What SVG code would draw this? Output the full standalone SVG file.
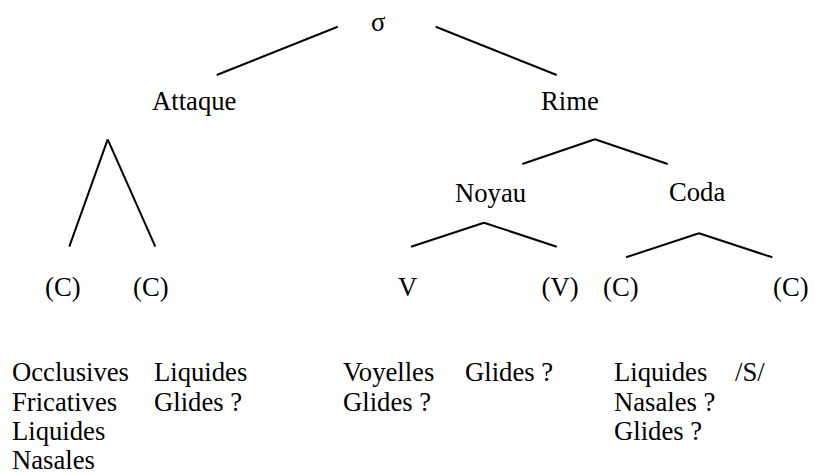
<svg xmlns="http://www.w3.org/2000/svg" width="815" height="475" viewBox="0 0 815 475">
<style>
text { font-family: "Liberation Serif", "Times New Roman", serif; font-size: 26.67px; fill: #000; }
.e line { stroke: #000; stroke-width: 2; stroke-linecap: butt; }
</style>
<rect width="815" height="475" fill="#fff"/>
<g id="connectors" class="e">
  <line x1="337.7" y1="26.7" x2="216.7" y2="75"/>
  <line x1="435.7" y1="26.7" x2="556.7" y2="75"/>
  <line x1="107.7" y1="139.3" x2="69.3" y2="246.7"/>
  <line x1="107.7" y1="139.3" x2="155.3" y2="246.7"/>
  <line x1="595" y1="139.3" x2="522.3" y2="164"/>
  <line x1="595" y1="139.3" x2="667.7" y2="164"/>
  <line x1="484" y1="222.7" x2="411" y2="246.7"/>
  <line x1="484" y1="222.7" x2="556.7" y2="246.7"/>
  <line x1="699" y1="233.3" x2="626" y2="257.3"/>
  <line x1="699" y1="233.3" x2="772.3" y2="257.3"/>
</g>
<g id="sigma"><text x="371" y="31">σ</text></g>
<g id="attaque"><text x="152" y="110">Attaque</text></g>
<g id="rime"><text x="541" y="110">Rime</text></g>
<g id="noyau"><text x="455" y="202">Noyau</text></g>
<g id="coda"><text x="669" y="201">Coda</text></g>
<g id="c1"><text x="45" y="296">(C)</text></g>
<g id="c2"><text x="133" y="296">(C)</text></g>
<g id="v1"><text x="398" y="296">V</text></g>
<g id="v2"><text x="541.5" y="296">(V)</text></g>
<g id="c3"><text x="603" y="296">(C)</text></g>
<g id="c4"><text x="773" y="296">(C)</text></g>
<g id="list1">
  <text x="12" y="380.5">Occlusives</text>
  <text x="12" y="410.5">Fricatives</text>
  <text x="12" y="440">Liquides</text>
  <text x="12" y="468.5">Nasales</text>
</g>
<g id="list2">
  <text x="154" y="380.5">Liquides</text>
  <text x="154" y="410.5">Glides ?</text>
</g>
<g id="list3">
  <text x="343" y="380.5">Voyelles</text>
  <text x="343" y="410.5">Glides ?</text>
</g>
<g id="list4">
  <text x="465" y="380.5">Glides ?</text>
</g>
<g id="list5">
  <text x="614" y="380.5">Liquides</text>
  <text x="614" y="410.5">Nasales ?</text>
  <text x="614" y="440">Glides ?</text>
</g>
<g id="list6">
  <text x="735" y="380.5">/S/</text>
</g>
</svg>
